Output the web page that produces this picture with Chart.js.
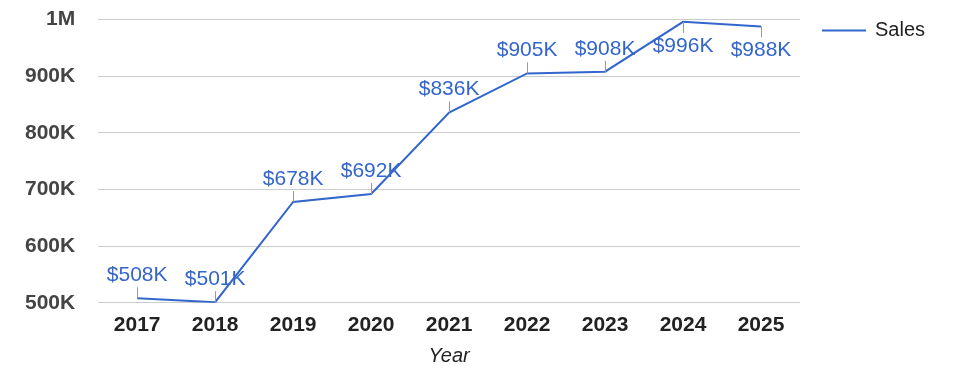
<!DOCTYPE html>
<html>
<head>
<meta charset="utf-8">
<script src="https://cdn.jsdelivr.net/npm/chart.js@4"></script>
<style>
  html, body { margin: 0; padding: 0; background: #fff; }
  #wrap { width: 975px; height: 378px; position: relative; overflow: hidden; }
  #inner { position: absolute; left: 0; top: -16px; width: 975px; height: 394px; }
</style>
</head>
<body>
<div id="wrap"><div id="inner"><canvas id="chart"></canvas></div></div>
<script>
var years = ['2017', '2018', '2019', '2020', '2021', '2022', '2023', '2024', '2025'];
var sales = [508000, 501000, 678000, 692000, 836000, 905000, 908000, 996000, 988000];
var seriesName = 'Sales';
var axisTitle = 'Year';

var lineColor = '#3366cc';
var fontFamily = 'Arial, "Liberation Sans", sans-serif';

function shortMoney(v) {
  if (v >= 1000000) return (v / 1000000) + 'M';
  return Math.round(v / 1000) + 'K';
}

// labels above each point with a little leader line,
// flipped below the point when there is no room at the top
var pointLabels = {
  id: 'pointLabels',
  afterDatasetsDraw: function (chart) {
    var ctx = chart.ctx;
    var meta = chart.getDatasetMeta(0);
    var top = chart.chartArea.top;
    ctx.save();
    meta.data.forEach(function (pt, i) {
      var below = pt.y - top < 15;
      var x = Math.round(pt.x) + 0.5;
      ctx.strokeStyle = '#999';
      ctx.lineWidth = 1;
      ctx.beginPath();
      ctx.moveTo(x, pt.y);
      ctx.lineTo(x, below ? pt.y + 11 : pt.y - 11);
      ctx.stroke();
      ctx.fillStyle = lineColor;
      ctx.font = '21px ' + fontFamily;
      ctx.textAlign = 'center';
      ctx.textBaseline = 'alphabetic';
      ctx.fillText('$' + shortMoney(sales[i]), pt.x, below ? pt.y + 30 : pt.y - 17);
    });
    ctx.restore();
  }
};

// legend on the right
var sideLegend = {
  id: 'sideLegend',
  afterDraw: function (chart) {
    var ctx = chart.ctx;
    var a = chart.chartArea;
    var y = a.top + 11;
    ctx.save();
    ctx.strokeStyle = lineColor;
    ctx.lineWidth = 2;
    ctx.beginPath();
    ctx.moveTo(a.right + 22, y);
    ctx.lineTo(a.right + 66, y);
    ctx.stroke();
    ctx.fillStyle = '#222';
    ctx.font = '20px ' + fontFamily;
    ctx.textAlign = 'left';
    ctx.textBaseline = 'middle';
    ctx.fillText(seriesName, a.right + 75, y);
    ctx.restore();
  }
};

new Chart(document.getElementById('chart'), {
  type: 'line',
  data: {
    labels: years,
    datasets: [{
      label: seriesName,
      data: sales,
      borderColor: lineColor,
      backgroundColor: lineColor,
      borderWidth: 2,
      pointRadius: 0,
      tension: 0
    }]
  },
  options: {
    responsive: true,
    maintainAspectRatio: false,
    animation: false,
    layout: { padding: { left: 2, right: 175, top: 0, bottom: 10 } },
    plugins: {
      legend: { display: false },
      tooltip: { enabled: false }
    },
    scales: {
      x: {
        offset: true,
        grid: { display: false },
        border: { display: false },
        ticks: {
          color: '#222',
          padding: 2,
          font: { family: fontFamily, size: 21, weight: 'bold' }
        },
        title: {
          display: true,
          text: axisTitle,
          color: '#222',
          padding: { top: 4, bottom: 0 },
          font: { family: fontFamily, size: 20, style: 'italic' }
        }
      },
      y: {
        min: 500000,
        max: 1000000,
        border: { display: false },
        grid: {
          drawTicks: false,
          color: function (c) {
            return c.tick && c.tick.value % 100000 === 0 ? '#cccccc' : '#ebebeb';
          }
        },
        ticks: {
          stepSize: 50000,
          color: '#444',
          padding: 23,
          font: { family: fontFamily, size: 21, weight: 'bold' },
          callback: function (v) {
            return v % 100000 === 0 ? shortMoney(v) : null;
          }
        }
      }
    }
  },
  plugins: [pointLabels, sideLegend]
});
</script>
</body>
</html>
